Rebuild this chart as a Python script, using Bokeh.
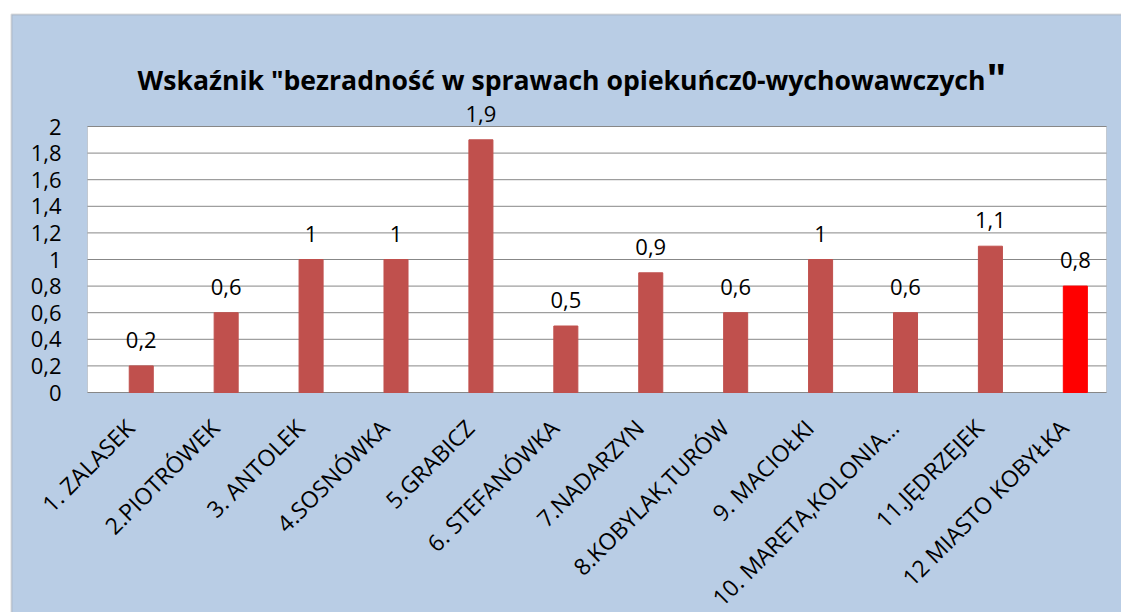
from bokeh.plotting import figure
from bokeh.models import Range1d, Label, ColumnDataSource, BoxAnnotation
from bokeh.transform import dodge
from bokeh.core.properties import value
from bokeh.embed import file_html
from bokeh.resources import INLINE
import math

categories = ["1. ZALASEK", "2.PIOTRÓWEK", "3. ANTOLEK", "4.SOSNÓWKA", "5.GRABICZ",
              "6. STEFANÓWKA", "7.NADARZYN", "8.KOBYLAK,TURÓW", "9. MACIOŁKI",
              "10. MARETA,KOLONIA…", "11.JĘDRZEJEK", "12 MIASTO KOBYŁKA"]
values = [0.2, 0.6, 1, 1, 1.9, 0.5, 0.9, 0.6, 1, 0.6, 1.1, 0.8]
bar_colors = ["#C0504D"] * 11 + ["#FF0000"]
y_ticks = [0, 0.2, 0.4, 0.6, 0.8, 1, 1.2, 1.4, 1.6, 1.8, 2]
y_tick_labels = ["0", "0,2", "0,4", "0,6", "0,8", "1", "1,2", "1,4", "1,6", "1,8", "2"]
title_text = "Wskaźnik \"bezradność w sprawach opiekuńcz0-wychowawczych"
title_tail = "\""

def fmt(v):
    return ("%g" % v).replace(".", ",")

n = len(categories)
source = ColumnDataSource(dict(cat=categories, x=[i + 0.5 for i in range(n)], val=values,
                               color=bar_colors, lab=[fmt(v) for v in values],
                               base=[0] * n))
ticks_src = ColumnDataSource(dict(y=y_ticks, lab=y_tick_labels,
                                  x0=[0] * len(y_ticks), x1=[n] * len(y_ticks)))

FONT = "Open Sans"
BG = "#B9CDE5"
GRID = "#878787"
Y_MAX = 2.0

# page-pixel geometry of the chart (figure fills the page from (0, 0))
FIG_W, FIG_H = 1121, 612
PAGE_X0, PAGE_Y0 = 0, 0
PLOT_L, PLOT_R, PLOT_T, PLOT_B = 87, 1106, 126, 392
PX_X = (PLOT_R - PLOT_L) / n
PX_Y = (PLOT_B - PLOT_T) / Y_MAX

def xd(px):
    return (px - PLOT_L) / PX_X

def yd(py):
    return (PLOT_B - py) / PX_Y

p = figure(x_range=Range1d(xd(PAGE_X0), xd(PAGE_X0 + FIG_W)),
           y_range=Range1d(yd(PAGE_Y0 + FIG_H), yd(PAGE_Y0)),
           width=FIG_W, height=FIG_H, output_backend="svg", toolbar_location=None,
           x_axis_location=None, y_axis_location=None,
           min_border_left=0, min_border_top=0, min_border_right=0, min_border_bottom=0)
p.border_fill_color = "white"
p.background_fill_color = "white"
p.outline_line_color = None
p.xgrid.visible = False
p.ygrid.visible = False

# chart area (light blue) with grey frame
p.add_layout(BoxAnnotation(left=xd(11), bottom=yd(FIG_H + 5), top=yd(14), right=xd(FIG_W + 5),
                           fill_color=BG, fill_alpha=1, line_color="#8C8C8C",
                           line_width=2, level="image"))
# white plot area
p.add_layout(BoxAnnotation(left=0, right=n, bottom=0, top=Y_MAX, fill_color="white",
                           fill_alpha=1, line_color=GRID, line_width=1, level="image"))

# horizontal gridlines
p.segment(x0="x0", x1="x1", y0="y", y1="y", source=ticks_src, line_color=GRID, line_width=1)

# y tick labels
p.text(x="x0", y="y", text="lab", source=ticks_src, text_align="right",
       text_baseline="middle", x_offset=-26, text_font=value(FONT),
       text_font_size="22px", text_color="black")

p.vbar(x=dodge("x", 0.133), top="val", width=0.283, bottom=0, color="color", source=source)
p.text(x=dodge("x", 0.133), y="val", text="lab", source=source,
       text_align="center", text_baseline="alphabetic", y_offset=-26,
       text_font=value(FONT), text_font_size="22px", text_color="black")

# category labels, rotated 45 degrees below the plot area
p.text(x="x", y="base", text="cat", source=source, angle=math.pi / 4,
       text_align="right", text_baseline="middle", y_offset=31,
       text_font=value(FONT), text_font_size="23px", text_color="black")

p.add_layout(Label(x=xd(985), y=yd(79), text=title_text, text_align="right",
                   text_baseline="alphabetic", text_font=FONT, text_font_size="26.6px",
                   text_font_style="bold", text_color="black"))
p.add_layout(Label(x=xd(986), y=yd(77), text=title_tail, text_align="left",
                   text_baseline="alphabetic", text_font=FONT, text_font_size="42px",
                   text_font_style="bold", text_color="black"))

open("out.html", "w").write(file_html(p, INLINE))
